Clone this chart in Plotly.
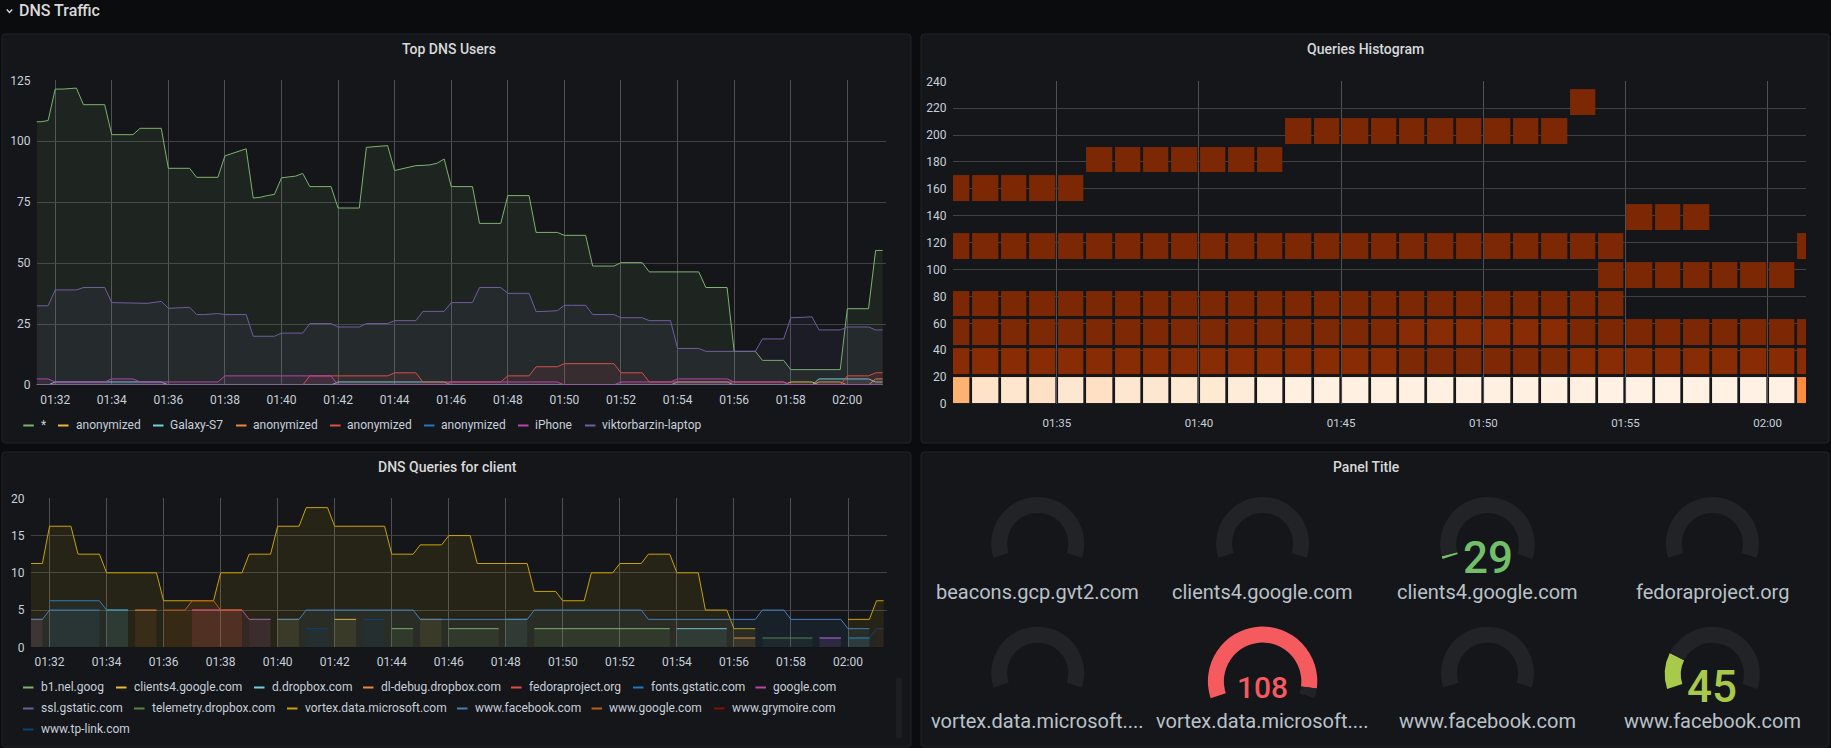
import pandas as pd
import plotly.graph_objects as go

W, H = 1831, 748
N = None

# ---------- Top DNS Users (samples every 15 s, 01:31:15 .. 02:01:15)
star = [108, 108, 108.5,
        121.4, 121.4, 121.5, 121.8, 115, 115, 115, 115, 102.7, 102.7, 102.7, 102.7,
        105.3, 105.3, 105.3, 105.3, 88.9, 88.9, 88.9, 88.9, 85.2, 85.2, 85.2, 85.2,
        94, 95, 96, 96.9, 76.7, 77, 77.7, 78.2, 85, 85.2, 85.7, 86.8,
        81.4, 81.4, 81.4, 81.4, 72.6, 72.6, 72.6, 72.6, 97.5, 97.7, 97.9, 98.2,
        88, 88.7, 89.3, 90, 90.1, 90.3, 91, 92.7, 81.4, 81.4, 81.4, 81.4,
        66.3, 66.3, 66.3, 66.3, 77.7, 77.7, 77.7, 77.7, 62.6, 62.6, 62.6, 62.6,
        61.4, 61.4, 61.4, 61.4, 48.8, 48.8, 48.8, 48.8, 50.2, 50.2, 50.2, 50.2,
        46.4, 46.4, 46.4, 46.4, 46.4, 46.4, 46.4, 46.4, 40, 40, 40, 40,
        13.8, 13.8, 13.8, 13.8, 10.1, 10.1, 10.1, 10.1, 6.3, 6.3, 6.3, 6.3,
        6.3, 6.3, 6.3, 6.3, 31.3, 31.3, 31.3, 31.3, 55.2, 55.2]
viktor = [32.5, 32.5, 32.5,
          39, 39, 39, 39, 40, 40, 40, 40, 33.8, 33.8, 33.8, 33.8,
          33.5, 33.5, 33.9, 34.3, 31.5, 31.5, 31.7, 31.9, 28.9, 28.9, 29.1, 29.3,
          28.9, 28.9, 28.9, 28.9, 20, 20, 20, 20, 21.3, 21.3, 21.3, 21.3,
          25.2, 25.2, 25.2, 25.2, 23.8, 23.8, 23.8, 23.8, 25.2, 25.2, 25.2, 25.2,
          26.4, 26.4, 26.4, 26.4, 30.2, 30.2, 30.2, 30.2, 33.8, 33.8, 33.8, 33.8,
          40, 40, 40, 40, 37.6, 37.6, 37.6, 37.6, 30.1, 30.1, 30.3, 30.5,
          32.7, 32.7, 32.7, 32.7, 28.9, 28.9, 28.9, 28.9, 27.6, 27.6, 27.6, 27.6,
          26.4, 26.4, 26.4, 26.4, 15, 15, 15, 15, 13.8, 13.8, 13.8, 13.8,
          13.8, 13.8, 13.8, 13.8, 18.9, 18.9, 18.9, 18.9, 27.6, 27.6, 27.8, 28,
          22.6, 22.6, 22.6, 22.6, 23.8, 23.8, 23.8, 23.8, 22.6, 22.6]
# per-minute values, 01:31 .. 02:01
anon_yellow = [0]*27 + [1.25, 0, 0, 0]
galaxy = [0, 1.25, 1.25, 1.25, 1.25, 0, 0, 0, 0, 0, 0, 1.25, 1.25, 1.25, 1.25, 0, 0, 0, 0, 0, 0, 0, 0,
          1.25, 1.25, 0, 0, 0, 2.5, 2.5, 1.25]
anon_orange = [0]*28 + [1.25, 0, 2.5]
anon_red = [0, 0, 0, 0, 0, 0, 0, 0, 0, 0, 3.75, 3.75, 3.75, 5, 1.25, 1.25, 1.25, 3.75, 7.5, 8.75, 8.75, 5,
            1.25, 1.25, 1.25, 1.25, 1.25, 0, 0, 3.75, 5]
anon_blue = [0]*31
iphone = [2.5, 1.25, 1.25, 2.5, 1.25, 1.25, 1.25, 3.75, 3.75, 3.75, 3.75, 0, 0, 0, 0, 1.25, 1.25, 1.25, 1.25,
          0, 0, 1.25, 1.25, 2.5, 2.5, 1.25, 1.25, 0, 0, 0, 0]

users_names = ["*", "anonymized", "Galaxy-S7", "anonymized", "anonymized", "anonymized", "iPhone",
               "viktorbarzin-laptop"]

# ---------- DNS Queries for client (per minute, 01:31 .. 02:01; None = absent)
b1_nel = [N]*13 + [2.5, N, 2.5, 2.5, N, 2.5, 2.5, 2.5, 2.5, 2.5] + [N]*8
clients4 = [N, N, N, N, N, N, N, N, N, 3.75, N, 3.75, N, N, 3.75] + [N]*16
d_dropbox = [N, N, N, 5] + [N]*13 + [3.75] + [N]*5 + [2.5, 2.5, N, N, N, N, 1.25, N]
dl_debug = [N, N, N, N, 5] + [N]*20 + [1.25] + [N]*5
fedora = [3.75, N, N, N, N, N, 5, 5] + [N]*23
fonts = [N, 6.25, 6.25, 5] + [N]*27
google = [N]*6 + [5, 5, 3.75] + [N]*19 + [1.25, N, N]
ssl_gstatic = [3.75] + [N]*7 + [3.75] + [N]*19 + [1.25, N, N]
telemetry = [N]*26 + [1.25, 1.25, N, N, N]
vortex = [11.25, 16.25, 12.5, 10, 10, 6.25, 6.25, 10, 12.5, 16.25, 18.75, 16.25, 16.25, 12.5, 13.75, 15,
          11.25, 11.25, 7.5, 6.25, 10, 11.25, 12.5, 10, 5, 2.5, N, N, N, 3.75, 6.25]
facebook = [3.75, 5, 5, N, N, N, N, N, N, 3.75, 5, 5, 5, 5, 3.75, 3.75, 3.75, 3.75, 5, 5, 5, 5,
            3.75, 3.75, 3.75, 3.75, 5, 3.75, 3.75, 2.5, N]
www_google = [N]*5 + [5, 6.25, 5] + [N]*23
grymoire = [N]*30 + [2.5]
tp_link = [N]*10 + [2.5, N, 3.75] + [N]*16 + [1.25, 2.5]

client_names = ["b1.nel.goog", "clients4.google.com", "d.dropbox.com", "dl-debug.dropbox.com", "fedoraproject.org",
                "fonts.gstatic.com", "google.com", "ssl.gstatic.com", "telemetry.dropbox.com",
                "vortex.data.microsoft.com", "www.facebook.com", "www.google.com", "www.grymoire.com", "www.tp-link.com"]

# ---------- Queries Histogram (rows = buckets bottom to top, columns = 01:31 .. 02:01)
hist_y = [10.0, 31.4, 52.9, 74.3, 95.7, 117.2, 138.6, 160.0, 181.4, 202.9, 224.3]
row0 = [26, 34.5, 35, 34, 35.5, 34, 35.5, 35.5, 36, 36, 37, 38, 38.5, 38.5, 38.5, 38.5, 38.5, 38.5, 38.5, 38.5,
        38.5, 38.5, 38.5, 39, 39, 39, 39, 39, 39, 39, 20.5]
row1 = [2.3]*16 + [1.2]*6 + [2.3]*9
row2 = [1.2]*16 + [2.3]*6 + [1]*9
row3 = [1]*24 + [N]*7
row4 = [N]*23 + [1]*7 + [N]
row5 = [1]*24 + [N]*6 + [1]
row6 = [N]*24 + [1, 1, 1] + [N]*4
row7 = [1]*5 + [N]*26
row8 = [N]*5 + [1]*7 + [N]*19
row9 = [N]*12 + [1]*10 + [N]*9
row10 = [N]*22 + [1] + [N]*8

# ---------- Panel Title (gauges)
gauge_labels = ["beacons.gcp.gvt2.com", "clients4.google.com", "clients4.google.com", "fedoraproject.org",
                "vortex.data.microsoft....", "vortex.data.microsoft....", "www.facebook.com", "www.facebook.com"]
gauge_values = [None, None, 29, None, None, 108, None, 45]
gauge_fill = [0, 0, 0.015, 0, 0, 0.952, 0, 0.206]

# ---------- style
PAGE = "#0b0c0e"
PANEL = "#141619"
BORDER = "#202226"
TEXT = "#c7d0d9"
TITLE = "#d8d9da"
GRID_H = "#3f4144"
GRID_V = "#4e5053"
FONT = "Roboto"
PAL = ["#7eb26d", "#eab839", "#6ed0e0", "#ef843c", "#e24d42", "#1f78c1", "#ba43a9", "#705da0",
       "#508642", "#cca300", "#447ebc", "#c15c17", "#890f02", "#0a437c"]
USERS_PAL = PAL[:8]
OR = [[0, "#7c2805"], [.125, "#a63603"], [.25, "#d94801"], [.375, "#f16913"], [.5, "#fd8d3c"],
      [.625, "#fdae6b"], [.75, "#fdd0a2"], [.875, "#fee6ce"], [1, "#fff5eb"]]
GAUGE_BG = "#212327"


def fx(p):
    return p / W


def fy(p):
    return 1 - p / H


def rgba(c, a):
    return "rgba(%d,%d,%d,%s)" % (int(c[1:3], 16), int(c[3:5], 16), int(c[5:7], 16), a)


DAY = "2020-01-01 "
t_samples = pd.date_range(DAY + "01:31:15", DAY + "02:01:15", freq="15s")
t_all = pd.date_range(DAY + "01:31:00", periods=124, freq="15s")
t_cols = pd.date_range(DAY + "01:31:30", periods=31, freq="60s")
XR = [DAY + "01:31:21", DAY + "02:01:21"]

fig = go.Figure()


def add_line(x, y, color, name, xa, ya):
    fig.add_trace(go.Scatter(x=x, y=y, mode="lines", name=name, xaxis=xa, yaxis=ya,
                             line=dict(color=color, width=1), fill="tozeroy",
                             fillcolor=rgba(color, 0.1), showlegend=False, hoverinfo="skip"))


def by_minute(vals):
    out = []
    for v in vals:
        out += [v] * 4
    return out[1:122]


# Panel 1
users = [star, by_minute(anon_yellow), by_minute(galaxy), by_minute(anon_orange), by_minute(anon_red),
         by_minute(anon_blue), by_minute(iphone), viktor]
for ser, col, nm in zip(users, USERS_PAL, users_names):
    add_line(t_samples, ser, col, nm, "x", "y")

# Panel 3: every unbroken run of a series gets its own filled trace
clients = [b1_nel, clients4, d_dropbox, dl_debug, fedora, fonts, google, ssl_gstatic, telemetry, vortex,
           facebook, www_google, grymoire, tp_link]
for ser, col, nm in zip(clients, PAL, client_names):
    run = []
    for i, v in enumerate(ser + [None]):
        if v is not None:
            run.append(i)
        elif run:
            xs, ys = [], []
            for j in run:
                for k in range(4):
                    s = j * 4 + k
                    if 1 <= s <= 121:
                        xs.append(t_all[s])
                        ys.append(ser[j])
            add_line(xs, ys, col, nm, "x3", "y3")
            run = []

# Panel 2
fig.add_trace(go.Heatmap(x=t_cols, y=hist_y,
                         z=[row0, row1, row2, row3, row4, row5, row6, row7, row8, row9, row10],
                         xaxis="x2", yaxis="y2", colorscale=OR, zmin=1, zmax=40, showscale=False,
                         xgap=2.7, ygap=3, hoverinfo="skip", name="Queries Histogram"))

# Panel 4: gauges are pies with a transparent gap
ARC = 216.0
GAP = 360 - ARC
centers_x = [1037.7, 1262.6, 1487.5, 1712.4]
gauge_geo = [(543.5, 46.5), (543.5, 46.5), (544.3, 47.3), (543.5, 46.5),
             (673.2, 46.5), (681.3, 54.7), (673.2, 46.5), (674.3, 47.6)]
value_colors = {2: "#73bf69", 5: "#f55a5f", 7: "#a9c94a"}
for i, (cy, r) in enumerate(gauge_geo):
    cx = centers_x[i % 4]
    filled = gauge_fill[i] * ARC
    col = value_colors.get(i, GAUGE_BG)
    fig.add_trace(go.Pie(values=[filled, ARC - filled, GAP], sort=False, direction="clockwise", rotation=252,
                         hole=(r - 16) / r, textinfo="none", hoverinfo="skip", showlegend=False,
                         marker=dict(colors=[col, GAUGE_BG, "rgba(0,0,0,0)"], line=dict(width=0)),
                         domain=dict(x=[fx(cx - r), fx(cx + r)], y=[fy(cy + r), fy(cy - r)])))

shapes = []


def panel(x0, y0, x1, y1):
    rad = 3
    X0, X1, Y0, Y1 = fx(x0), fx(x1), fy(y0), fy(y1)
    rx, ry = rad / W, rad / H
    path = (f"M{X0 + rx},{Y0} L{X1 - rx},{Y0} Q{X1},{Y0} {X1},{Y0 - ry} L{X1},{Y1 + ry} Q{X1},{Y1} {X1 - rx},{Y1} "
            f"L{X0 + rx},{Y1} Q{X0},{Y1} {X0},{Y1 + ry} L{X0},{Y0 - ry} Q{X0},{Y0} {X0 + rx},{Y0} Z")
    shapes.append(dict(type="path", xref="paper", yref="paper", path=path, fillcolor=PANEL,
                       line=dict(color=BORDER, width=1), layer="below"))


panel(2, 34, 911, 443)
panel(921, 34, 1829, 443)
panel(2, 452, 911, 747)
panel(921, 452, 1829, 747)

# chevron
shapes.append(dict(type="path", xref="paper", yref="paper",
                   path=f"M{fx(6.8)},{fy(9.6)} L{fx(9.5)},{fy(12.4)} L{fx(12.2)},{fy(9.6)}",
                   line=dict(color=TITLE, width=1.4), layer="above"))
# legend scrollbar
shapes.append(dict(type="rect", xref="paper", yref="paper", x0=fx(896), x1=fx(902), y0=fy(738), y1=fy(678),
                   fillcolor="#1c1e21", line=dict(width=0), layer="below"))

ann = []


def text(px, py, s, size=12, color=TEXT, anchor="center", weight=400):
    ann.append(dict(xref="paper", yref="paper", x=fx(px), y=fy(py), text=s, showarrow=False, xanchor=anchor,
                    yanchor="middle", font=dict(family=FONT, size=size, color=color, weight=weight),
                    borderpad=0, borderwidth=0))


text(18.5, 10, "DNS Traffic", 16, TITLE, "left", 500)
text(449, 49, "Top DNS Users", 14, TITLE, "center", 500)
text(1365, 49, "Queries Histogram", 14, TITLE, "center", 500)
text(447.5, 466.7, "DNS Queries for client", 14, TITLE, "center", 500)
text(1366, 466.7, "Panel Title", 14, TITLE, "center", 500)

users_dash = [23.3, 58, 153, 236, 330, 424, 518, 585]
users_text = [41.4, 76, 170, 252.6, 346.6, 441, 535, 601.5]
for dx, tx, nm, col in zip(users_dash, users_text, users_names, USERS_PAL):
    shapes.append(dict(type="line", xref="paper", yref="paper", x0=fx(dx), x1=fx(dx + 10.5), y0=fy(425.5), y1=fy(425.5),
                       line=dict(color=col, width=2)))
    text(tx, 424.5, nm, anchor="left")

client_dash = [(23, 687), (116, 687), (254, 687), (363, 687), (511, 687), (633, 687), (755.5, 687),
               (23, 708), (134, 708), (287, 708), (457, 708), (591.6, 708), (714, 708), (23, 729)]
for (dx, ry), nm, col in zip(client_dash, client_names, PAL):
    shapes.append(dict(type="line", xref="paper", yref="paper", x0=fx(dx), x1=fx(dx + 10.5), y0=fy(ry + .5), y1=fy(ry + .5),
                       line=dict(color=col, width=2)))
    text(dx + 17.5, ry - .5, nm, anchor="left")

label_y = [591.7, 720.7]
for i, lab in enumerate(gauge_labels):
    text(centers_x[i % 4], label_y[i // 4], lab, 20, "#b9c1c9")
    if gauge_values[i] is not None:
        size = 30 if gauge_values[i] > 100 else 44
        ypos = {2: 557.5, 5: 687.5, 7: 686.5}[i]
        text(centers_x[i % 4], ypos, str(gauge_values[i]), size, value_colors[i], "center", 500)


def xax(domain, anchor, dtick_min, fs=12, ticklen=5):
    return dict(domain=[fx(domain[0]), fx(domain[1])], range=XR, type="date", anchor=anchor, dtick=dtick_min * 60000,
                tick0=DAY + "00:00:00", tickformat="%H:%M", showgrid=True, gridcolor=GRID_V, gridwidth=1,
                zeroline=False, showline=False, ticks="outside", ticklen=ticklen, tickcolor="rgba(0,0,0,0)",
                automargin=False, tickfont=dict(family=FONT, size=fs, color=TEXT))


def yax(domain, anchor, rng, dtick, ticklen=3):
    return dict(domain=[fy(domain[1]), fy(domain[0])], range=rng, anchor=anchor, dtick=dtick, showgrid=True,
                gridcolor=GRID_H, gridwidth=1, zeroline=False, showline=False, ticks="outside", ticklen=ticklen,
                automargin=False, tickcolor="rgba(0,0,0,0)", tickfont=dict(family=FONT, size=12, color=TEXT))


fig.update_layout(
    width=W, height=H, autosize=False, margin=dict(l=0, r=0, t=0, b=0, pad=0),
    paper_bgcolor=PAGE, plot_bgcolor="rgba(0,0,0,0)", showlegend=False,
    font=dict(family=FONT, size=12, color=TEXT),
    xaxis=xax((36.8, 885.5), "y", 2, 12, 4),
    yaxis=yax((80.3, 385), "x", [0, 125], 25),
    xaxis2=xax((953, 1806), "y2", 5, 11.5, 8),
    yaxis2=yax((81.3, 404), "x2", [0, 240], 20),
    xaxis3=xax((31, 886.5), "y3", 2, 12, 3),
    yaxis3=yax((498.3, 647.3), "x3", [0, 20], 5),
    shapes=shapes, annotations=ann,
)

fig.write_html("out.html", config=dict(displayModeBar=False, responsive=False),
               post_script="document.body.style.margin='0';document.body.style.background='#0b0c0e';"
                           "document.documentElement.style.overflow='hidden';")
